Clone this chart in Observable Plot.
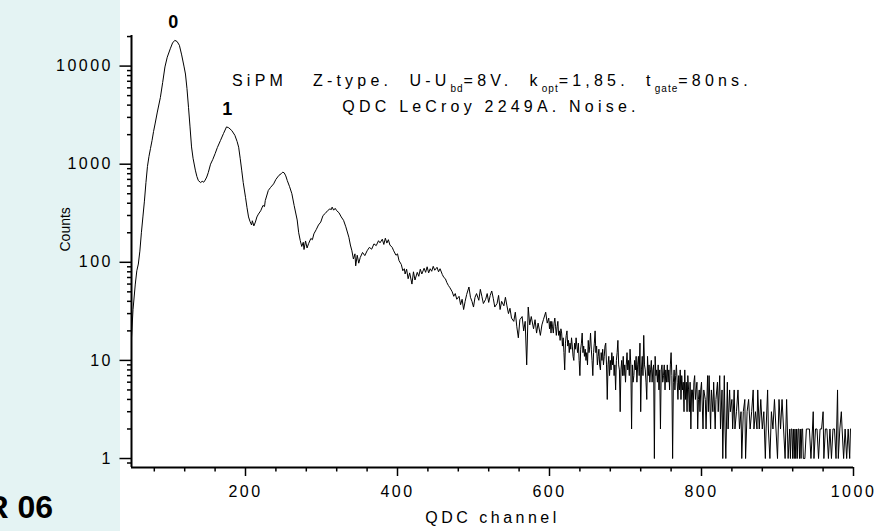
<!DOCTYPE html>
<html><head><meta charset="utf-8">
<script src="https://cdn.jsdelivr.net/npm/d3@7"></script>
<script src="https://cdn.jsdelivr.net/npm/@observablehq/plot@0.6"></script>
<style>
html,body{margin:0;padding:0;background:#fff;}
#wrap{position:relative;width:875px;height:531px;overflow:hidden;}
#panel{position:absolute;left:0;top:0;width:120px;height:531px;background:#e4f3f3;}
#chart{position:absolute;left:0;top:0;}
#chart svg{font-family:"Liberation Sans",Arial,sans-serif;}
</style></head><body>
<div id="wrap"><div id="panel"></div><div id="chart"></div></div>
<script>
const channel = [50,52,55,57,59,61,63,65,67,69,71,73,75,77,79,81,84,88,91,94,97,101,104,107,110,113,116,119,121,123,125,127,129,131,134,136,138,141,143,145,147,149,151,154,157,160,163,167,171,175,178,182,186,189,191,193,195,197,200,202,204,206,208,209,211,213,215,217,220,223,225,226,230,233,237,240,244,247,249,251,253,255,258,261,264,268,270,272,274,276,277,279,281,283,286,288,290,293,296,299,302,305,308,311,313,314,316,318,320,323,326,329,332,336,338,340,342,344,345,347,349,351,354,357,360,363,366,369,372,375,377,380,382,384,386,388,390,393,395,398,
400,402,405,407,409,410,412,414,416,419,421,423,426,428,430,432,435,437,439,441,443,445,447,449,452,454,456,459,461,463,465,467,469,472,474,476,478,481,483,485,487,489,491,494,496,498,
500,502,504,507,509,511,513,516,518,520,522,524,526,528,531,533,535,537,540,542,544,546,548,550,553,555,557,559,561,564,566,568,570,572,574,576,579,581,583,585,588,590,592,595,597,599,
600,601,602,603,604,605,606,607,608,609,610,611,612,613,614,615,616,617,618,619,620,621,622,623,624,625,626,627,628,629,630,631,632,633,634,635,636,637,638,639,640,641,642,643,644,645,646,647,648,649,
650,651,652,653,654,655,656,657,658,659,660,661,662,663,664,665,666,667,668,669,670,671,672,673,674,675,676,677,678,679,680,681,682,683,684,685,686,687,688,689,690,691,692,693,694,695,696,697,698,699,
700,701,702,703,704,705,706,707,708,709,710,711,712,713,714,715,716,717,718,719,720,721,722,723,724,725,726,727,728,729,730,731,732,733,734,735,736,737,738,739,740,741,742,743,744,745,746,747,748,749,
750,751,752,753,754,755,756,757,758,759,760,761,762,763,764,765,766,767,768,769,770,771,772,773,774,775,776,777,778,779,780,781,782,783,784,785,786,787,788,789,790,791,792,793,794,795,796,797,798,799,
800,802,803,805,806,808,809,810,812,813,815,816,818,819,821,822,824,825,827,828,830,831,832,834,835,837,838,840,841,843,844,846,848,850,852,853,855,857,858,860,862,864,866,868,869,871,873,874,876,878,880,882,884,885,887,888,890,892,894,896,898,
900,902,904,906,908,910,912,913,914,916,917,918,919,920,921,922,923,924,925,926,927,928,929,930,931,932,933,934,936,938,940,942,944,946,947,948,950,952,954,956,958,960,961,963,965,967,969,971,973,975,977,979,980,982,984,985,987,989,991,993,995,996];
const counts = [17,33,60,82,96,130,200,290,420,650,950,1200,1450,1740,2150,2570,3400,4790,6800,9800,12300,15000,17200,18300,17800,16300,13000,10000,8300,5900,3800,2400,1500,1150,870,750,680,650,670,655,690,740,820,1000,1120,1280,1480,1740,2050,2400,2350,2200,1970,1700,1490,1150,870,650,460,360,290,260,240,265,235,257,290,310,335,380,370,425,540,580,630,700,770,800,830,815,760,680,590,500,380,270,200,167,145,160,135,165,140,155,175,170,195,215,240,257,300,315,336,350,345,365,340,355,336,320,290,268,230,180,150,131,108,122,92,118,98,112,126,117,131,142,136,154,148,166,158,172,152,176,157,170,150,142,131,118,
122,104,95,82,86,76,85,68,78,60,80,66,79,72,85,76,87,79,90,78,86,81,91,83,89,80,86,75,70,68,62,58,55,50,45,48,42,45,37,42,33,40,47,56,44,40,
35,44,48,41,53,45,38,42,48,39,46,51,43,35,38,46,33,40,36,44,36,30,34,27,25,31,22,17,26,28,20,25,9,35,23,28,21,26,19,24,18,23,26,31,24,27,
21,25,19,25,22,19,24,27,22,18,22,25,18,20,16,21,19,14,17,12,8,15,18,20,14,16,12,15,13,17,14,11,10,15,13,17,14,12,15,10,7,13,15,19,12,14,11,13,10,12,
9,16,12,14,19,13,10,7,12,15,20,12,14,9,11,13,9,8,12,10,13,9,11,14,15,9,4,9,11,7,10,8,12,9,11,7,9,5,10,12,16,9,8,3,8,10,7,11,7,9,
6,9,12,8,10,7,13,9,2,9,6,7,10,8,11,6,9,11,7,15,3,8,11,7,18,9,8,6,4,11,7,9,6,8,10,6,8,9,1,11,7,8,6,9,5,8,2,8,9,6,
7,9,5,8,6,9,6,8,5,9,12,7,1,6,8,5,7,9,6,4,7,5,8,4,7,5,6,3,8,4,6,3,7,5,3,6,2,5,5,3,6,7,4,5,6,2,4,5,3,5,
6,2,5,4,2,7,3,7,2,5,3,6,2,4,6,3,7,2,5,1,7,2,1,6,2,5,3,4,2,5,2,3,5,2,3,1,3,4,1,3,4,2,3,5,2,3,2,5,2,4,2,3,1,2,5,2,1,3,2,4,2,
1,4,2,4,2,1,4,2,1,2,1,2,2,1,2,1,2,1,2,1,2,2,1,2,1,2,2,1,1,2,2,2,1,2,3,1,2,2,1,2,2,3,1,2,2,1,2,1,2,2,1,5,1,2,3,2,1,2,1,2,1,2];

const xMajor = [200,400,600,800,1000];
const xMinor = [80,120,160,240,280,320,360,440,480,520,560,640,680,720,760,840,880,920,960];
const yMajor = [1,10,100,1000,10000];
const yMajorLabels = ["1","10","100","1000","10000"];
const yMinor = [0.9,2,3,4,5,6,7,8,9,20,30,40,50,60,70,80,90,200,300,400,500,600,700,800,900,2000,3000,4000,5000,6000,7000,8000,9000,20000];
const peakChannel = [105,176];
const peakCounts = [18300,2400];
const peakLabels = ["0","1"];
const xLabel = "QDC channel";
const yLabel = "Counts";

const data = channel.map((c,i)=>({c, n: counts[i]}));
const peaks = peakChannel.map((c,i)=>({c, n: peakCounts[i], t: peakLabels[i]}));

const chart = Plot.plot({
  width: 875, height: 531,
  marginLeft: 131, marginRight: 22, marginTop: 35, marginBottom: 64,
  style: {background: "transparent", fontFamily: "Liberation Sans, Arial, sans-serif", fontSize: "16px", color: "#000"},
  x: {domain: [50,1000], axis: null},
  y: {type: "log", domain: [0.81, 20500], axis: null},
  marks: [
    Plot.axisY(yMinor, {anchor: "left", tickSize: 4, strokeWidth: 1.5, tickFormat: () => "", label: null}),
    Plot.axisY(yMajor, {anchor: "left", tickSize: 11.5, tickPadding: 7, strokeWidth: 1.5, fontSize: 16, tickFormat: d => yMajorLabels[yMajor.indexOf(d)], label: null}),
    Plot.axisX(xMinor, {anchor: "bottom", tickSize: 4.5, strokeWidth: 1.5, tickFormat: () => "", label: null}),
    Plot.axisX(xMajor, {anchor: "bottom", tickSize: 9, tickPadding: 9, strokeWidth: 1.5, fontSize: 16, tickFormat: d => String(d), label: null}),
    Plot.ruleX([50], {strokeWidth: 2}),
    Plot.ruleY([0.81], {strokeWidth: 2}),
    Plot.line(data, {x: "c", y: "n", stroke: "#000", strokeWidth: 1}),
    Plot.text(peaks, {x: "c", y: "n", text: "t", dy: -18, fontWeight: "bold", fontSize: 18}),
    Plot.text([xLabel], {frameAnchor: "bottom", dy: 55, fontSize: 16, text: d => d}),
    Plot.text([yLabel], {frameAnchor: "left", dx: -66, rotate: -90, fontSize: 14, text: d => d})
  ]
});
document.getElementById("chart").appendChild(chart);

const svg = d3.select(chart);
svg.selectAll("g[aria-label*='tick label'] text").style("letter-spacing", "2.5px");
svg.selectAll("g[aria-label='text'] text").filter(function(){ return this.textContent === xLabel; }).style("letter-spacing", "3.5px");

// annotation lines
const t1 = svg.append("text").attr("x", 232).attr("y", 86).attr("font-size", 16).attr("text-anchor", "start")
  .style("letter-spacing", "4.2px").style("white-space", "pre").attr("fill", "#000");
const parts = [["SiPM   Z-type.  U-U",0],["bd",1],["=8V.  k",0],["opt",1],["=1,85.  t",0],["gate",1],["=80ns.",0]];
let prevSub = 0;
parts.forEach(([s, sub]) => {
  const ts = t1.append("tspan").text(s);
  if (sub) { ts.attr("font-size", 10).attr("dy", 6).style("letter-spacing", "1px"); }
  else if (prevSub) { ts.attr("dy", -6); }
  prevSub = sub;
});
svg.append("text").attr("x", 491).attr("y", 112).attr("font-size", 16).attr("text-anchor", "middle")
  .style("letter-spacing", "4.2px").text("QDC LeCroy 2249A. Noise.");
svg.append("text").attr("x", 53).attr("y", 518).attr("font-size", 32).attr("font-weight", "bold")
  .attr("text-anchor", "end").text("R 06");
</script>
</body></html>
